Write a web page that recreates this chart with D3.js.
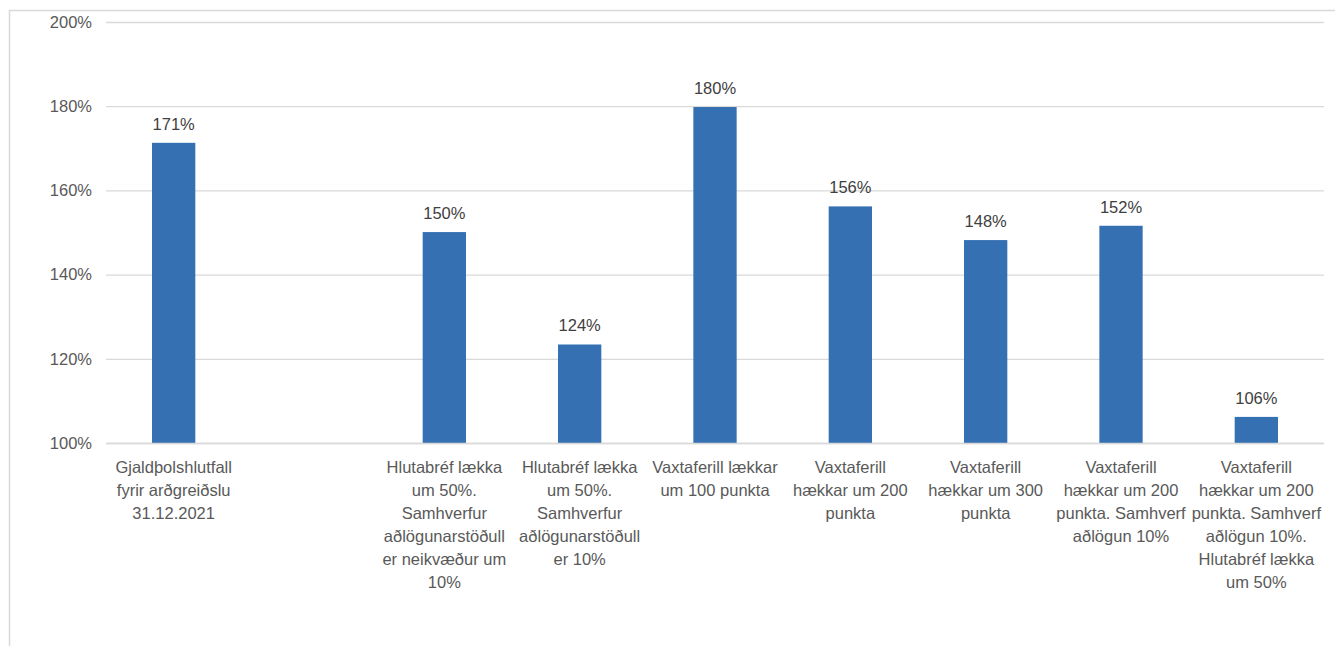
<!DOCTYPE html>
<html><head><meta charset="utf-8">
<script src="https://cdn.jsdelivr.net/npm/d3@7"></script>
<style>body{margin:0;background:#fff;}svg{display:block;}</style>
</head><body>
<svg id="c" width="1335" height="646"></svg>
<script>
const categories = [
  "Gjaldþolshlutfall\nfyrir arðgreiðslu\n31.12.2021",
  "",
  "Hlutabréf lækka\num 50%.\nSamhverfur\naðlögunarstöðull\ner neikvæður um\n10%",
  "Hlutabréf lækka\num 50%.\nSamhverfur\naðlögunarstöðull\ner 10%",
  "Vaxtaferill lækkar\num 100 punkta",
  "Vaxtaferill\nhækkar um 200\npunkta",
  "Vaxtaferill\nhækkar um 300\npunkta",
  "Vaxtaferill\nhækkar um 200\npunkta. Samhverf\naðlögun 10%",
  "Vaxtaferill\nhækkar um 200\npunkta. Samhverf\naðlögun 10%.\nHlutabréf lækka\num 50%"
];
const values = [171.3, null, 150.1, 123.4, 179.8, 156.2, 148.2, 151.6, 106.2];
const dataLabels = ["171%", "", "150%", "124%", "180%", "156%", "148%", "152%", "106%"];
const yTicks = [100, 120, 140, 160, 180, 200];

(function(){
const svg = d3.select("#c");
const font = "'Liberation Sans', Arial, sans-serif";
const fs = 16.5;

svg.append("rect").attr("x", 9.5).attr("y", 10.5).attr("width", 1340).attr("height", 650)
  .attr("fill", "none").attr("stroke", "#d9d9d9").attr("stroke-width", 1.5);

const mLeft = 106, mRight = 1324, mTop = 22, mBottom = 443;
const x = d3.scaleBand().domain(d3.range(categories.length)).range([mLeft, mRight]).paddingInner(0.68).paddingOuter(0.34);
const y = d3.scaleLinear().domain([100, 200]).range([mBottom, mTop]);

svg.append("g").selectAll("line").data(yTicks).join("line")
  .attr("x1", mLeft).attr("x2", mRight)
  .attr("y1", d => y(d) + 0.5).attr("y2", d => y(d) + 0.5)
  .attr("stroke", "#d9d9d9").attr("stroke-width", 1.3);

const yAxis = d3.axisLeft(y).tickValues(yTicks).tickFormat(d => d + "%").tickSize(0).tickPadding(0);
const ya = svg.append("g").attr("transform", `translate(92,0)`).call(yAxis);
ya.select(".domain").remove();
ya.selectAll("text").attr("font-family", font).attr("font-size", fs).attr("fill", "#595959");

const bd = values.map((v, i) => ({v, i})).filter(d => d.v !== null);
svg.append("g").selectAll("rect").data(bd).join("rect")
  .attr("x", d => x(d.i)).attr("width", x.bandwidth())
  .attr("y", d => y(d.v)).attr("height", d => y(100) - y(d.v))
  .attr("fill", "#3570b3");

svg.append("g").selectAll("text").data(bd).join("text")
  .attr("x", d => x(d.i) + x.bandwidth() / 2).attr("y", d => y(d.v) - 13)
  .attr("text-anchor", "middle").attr("font-family", font).attr("font-size", fs)
  .attr("fill", "#404040").text(d => dataLabels[d.i]);

svg.append("line").attr("x1", mLeft).attr("x2", mRight).attr("y1", mBottom + 0.5).attr("y2", mBottom + 0.5)
  .attr("stroke", "#d9d9d9").attr("stroke-width", 1.3);

const cg = svg.append("g");
categories.forEach((c, i) => {
  const t = cg.append("text").attr("text-anchor", "middle").attr("font-family", font)
    .attr("font-size", fs).attr("fill", "#595959");
  const cx = x(i) + x.bandwidth() / 2;
  c.split("\n").forEach((line, k) => {
    if (!line) return;
    t.append("tspan").attr("x", cx).attr("y", 473 + k * 23).text(line);
  });
});
})();
</script>
</body></html>
